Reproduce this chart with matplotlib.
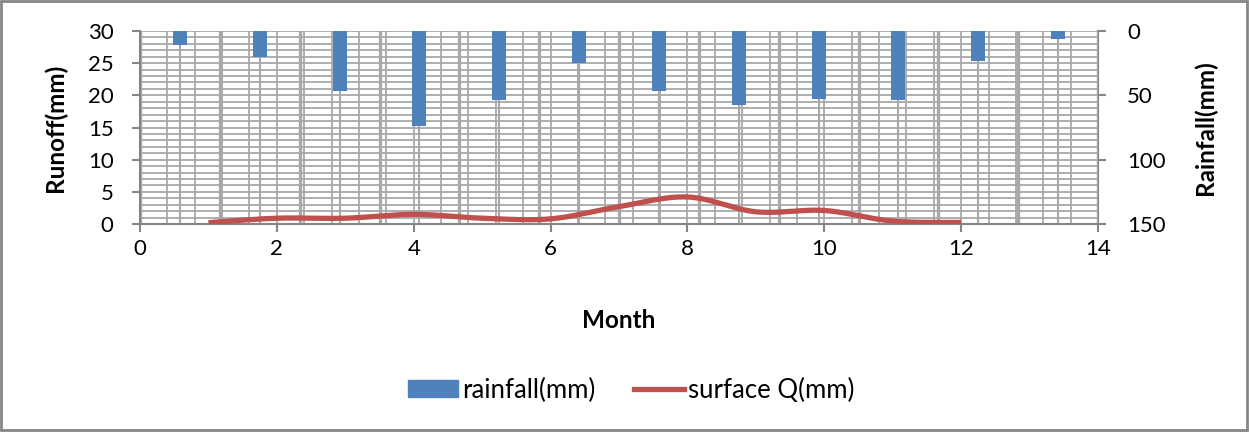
import numpy as np
import matplotlib.pyplot as plt
from matplotlib.patches import Rectangle, Patch
from matplotlib.lines import Line2D

plt.rcParams['font.family'] = ['Lato', 'DejaVu Sans']

# data
months = [1, 2, 3, 4, 5, 6, 7, 8, 9, 10, 11, 12]
rainfall = [10.5, 20.5, 47, 74, 53.5, 25, 47, 57.5, 53, 53.5, 23.5, 6]
surface_q = [0.2, 0.9, 0.9, 1.5, 0.9, 0.8, 2.7, 4.2, 1.9, 2.1, 0.45, 0.25]

x_ticks = [0, 2, 4, 6, 8, 10, 12, 14]
runoff_ticks = [0, 5, 10, 15, 20, 25, 30]
rain_ticks = [0, 50, 100, 150]

BLUE = '#4F81BD'
RED = '#C0504D'
GRID = '#A8A8A8'
AXIS = '#868686'


def smooth(x, y, n=40):
    """Excel-like smoothed line (Catmull-Rom through the points)."""
    pts = np.column_stack([x, y]).astype(float)
    P = np.vstack([pts[0], pts, pts[-1]])
    t = np.linspace(0, 1, n)[:, None]
    segs = []
    for i in range(1, len(P) - 2):
        p0, p1, p2, p3 = P[i - 1], P[i], P[i + 1], P[i + 2]
        c1 = p1 + (p2 - p0) / 6
        c2 = p2 - (p3 - p1) / 6
        segs.append((1 - t) ** 3 * p1 + 3 * (1 - t) ** 2 * t * c1
                    + 3 * (1 - t) * t ** 2 * c2 + t ** 3 * p2)
    return np.vstack(segs)


fig = plt.figure(figsize=(12.49, 4.32), dpi=100)
fig.patch.set_facecolor('white')

W, H = 1249, 432
ax = fig.add_axes([140 / W, 1 - 224 / H, 958 / W, 193 / H])
axr = ax.twinx()      # rainfall axis (inverted)
axb = axr.twiny()     # category axis for the bars

ax.set_xlim(0, 14)
ax.set_ylim(0, 30)
axr.set_ylim(150, 0)
axb.set_xlim(0, len(months))

# gridlines (drawn in the lower axes so bars and line sit on top)
for xv in np.arange(0, 14.001, 0.4):
    axr.axvline(xv, color=GRID, lw=1.3, zorder=0)
for yv in np.arange(0, 150.001, 5):
    axr.axhline(yv, color=GRID, lw=1.3, zorder=0)
for k in range(len(months) + 1):
    axb.axvline(k, color=GRID, lw=2.4, zorder=0)
for k in range(len(months)):
    axb.axvline(k + 0.5, color=GRID, lw=1.5, zorder=0)

# rainfall bars hanging from the top
axb.bar(np.arange(len(months)) + 0.5, rainfall, width=0.175, color=BLUE, zorder=2)

# runoff line on top
ax.set_zorder(5)
ax.patch.set_visible(False)
sm = smooth(months, surface_q)
ax.plot(sm[:, 0], sm[:, 1], color=RED, lw=3.8, solid_capstyle='butt', zorder=3)

# axes styling
ax.set_xticks(x_ticks)
ax.set_yticks(runoff_ticks)
axr.set_yticks(rain_ticks)
for a in (ax, axr, axb):
    for s in a.spines.values():
        s.set_visible(False)
ax.spines['left'].set_visible(True)
ax.spines['bottom'].set_visible(True)
axr.spines['right'].set_visible(True)
for s in (ax.spines['left'], ax.spines['bottom'], axr.spines['right']):
    s.set_color(AXIS)
    s.set_linewidth(1.5)
axb.xaxis.set_visible(False)

ax.tick_params(axis='both', length=6, width=1.5, color=AXIS, labelsize=16)
ax.tick_params(axis='y', pad=13)
ax.tick_params(axis='x', pad=5)
axr.tick_params(axis='y', length=6, width=1.5, color=AXIS, labelsize=16, pad=15)

fig.text(55 / W, 1 - 128 / H, 'Runoff(mm)', rotation=90, ha='center', va='center',
         fontsize=17.5, fontweight='bold')
fig.text(1205 / W, 1 - 128 / H, 'Rainfall(mm)', rotation=90, ha='center', va='center',
         fontsize=17.5, fontweight='bold')
fig.text(619 / W, 1 - 320 / H, 'Month', ha='center', va='center',
         fontsize=17.5, fontweight='bold')

handles = [Patch(color=BLUE), Line2D([], [], color=RED, lw=3.8)]
fig.legend(handles, ['rainfall(mm)', 'surface Q(mm)'], loc='center',
           bbox_to_anchor=(631 / W, 1 - 390 / H), ncol=2, frameon=False,
           fontsize=18.5, handlelength=1.95, handleheight=0.65, handletextpad=0.15,
           columnspacing=1.5)

# chart-area border
fig.patches.append(Rectangle((1 / W, 2 / H), 1246 / W, 429 / H, transform=fig.transFigure,
                             fill=False, edgecolor=AXIS, lw=2))

fig.savefig('out.png', dpi=100)
